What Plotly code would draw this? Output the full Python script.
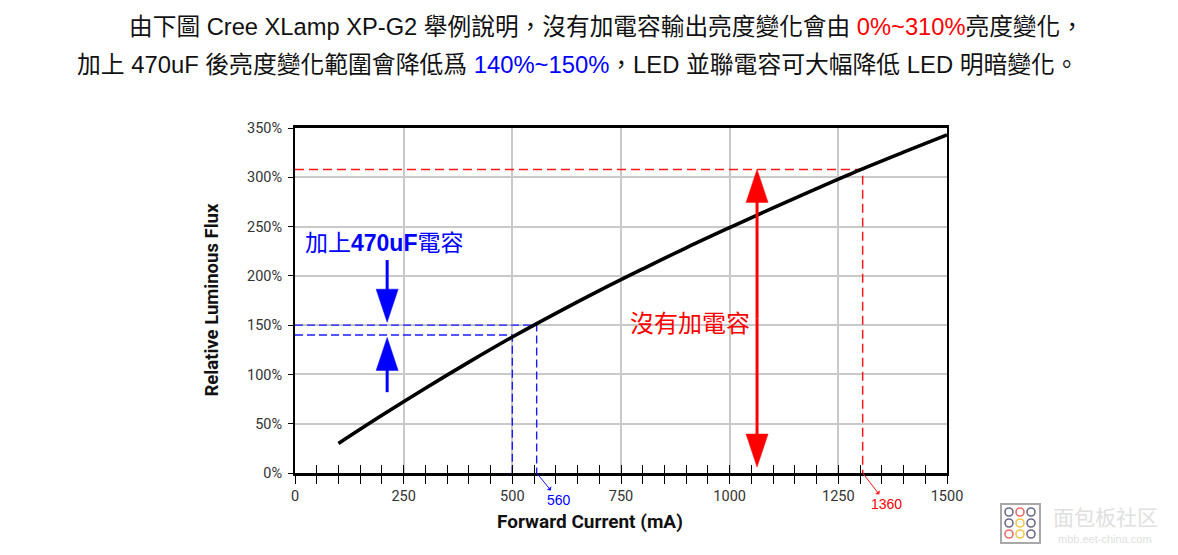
import plotly.graph_objects as go

# ---------------- data ----------------
current_ma = [100, 200, 300, 400, 500, 600, 700, 800, 900, 1000, 1100, 1200, 1300, 1400, 1500]
flux_pct = [30, 58.5, 86, 112.5, 138, 162, 185, 207, 228.5, 249, 269, 288.5, 307.5, 325.5, 343]

x_ticks = [0, 250, 500, 750, 1000, 1250, 1500]
y_ticks = [0, 50, 100, 150, 200, 250, 300, 350]
y_tick_text = ["0%", "50%", "100%", "150%", "200%", "250%", "300%", "350%"]

# capacitor case (blue)
cap_current = [500, 556]
cap_flux = [140, 150]
cap_label = "560"
# no-capacitor case (red)
nocap_current = 1306
nocap_flux = 308
nocap_label = "1360"

# arrows (data units)
blue_arrow_x = 212
blue_down = [216, 153]   # tail, tip
blue_up = [82, 137.5]    # tail, tip
red_arrow_x = 1063
red_tips = [6, 308]      # bottom tip, top tip

# ---------------- geometry / style ----------------
OFF = 8  # page body margin
W, H = 1178 - OFF, 555 - OFF
PL, PR, PT, PB = 295, 947, 128, 473  # plot area edges in reference pixels
ML, MR, MT, MB = PL - OFF, 1178 - PR, PT - OFF, 555 - PB
PW, PH = PR - PL, PB - PT
X_RANGE = [0, 1500]
Y_RANGE = [0, 350]
mA_per_px = (X_RANGE[1] - X_RANGE[0]) / PW
pct_per_px = (Y_RANGE[1] - Y_RANGE[0]) / PH

BLUE = "#1a1aff"
RED = "#ff1a1a"
CJK = "Liberation Sans, Arial, Noto Sans CJK TC, sans-serif"
TICKF = "Roboto, Liberation Sans, sans-serif"

HEAD_LEN_PX = 33
HEAD_HALF_PX = 11


def px_x(px):
    return (px - PL) / PW


def px_y(py):
    return (PB - py) / PH


fig = go.Figure()

# dashed guide lines
fig.add_trace(go.Scatter(x=[0, cap_current[0], cap_current[0]], y=[cap_flux[0], cap_flux[0], 0],
                         mode="lines", line=dict(color=BLUE, width=1.4, dash="8px,4px"),
                         hoverinfo="skip", showlegend=False))
fig.add_trace(go.Scatter(x=[0, cap_current[1], cap_current[1]], y=[cap_flux[1], cap_flux[1], 0],
                         mode="lines", line=dict(color=BLUE, width=1.4, dash="8px,4px"),
                         hoverinfo="skip", showlegend=False))
fig.add_trace(go.Scatter(x=[0, nocap_current, nocap_current], y=[nocap_flux, nocap_flux, 0],
                         mode="lines", line=dict(color=RED, width=1.5, dash="9px,5px"),
                         hoverinfo="skip", showlegend=False))

# main curve
fig.add_trace(go.Scatter(x=current_ma, y=flux_pct, mode="lines",
                         line=dict(color="black", width=3.6, shape="spline", smoothing=1),
                         showlegend=False))
# invisible trace to activate overlay axis for inside ticks
fig.add_trace(go.Scatter(x=current_ma, y=flux_pct, mode="lines", xaxis="x2",
                         line=dict(color="rgba(0,0,0,0)", width=0), hoverinfo="skip",
                         showlegend=False))


def arrow(x, tail, tip, color):
    d = 1 if tip > tail else -1
    hl = HEAD_LEN_PX * pct_per_px
    hw = HEAD_HALF_PX * mA_per_px
    base = tip - d * hl
    fig.add_trace(go.Scatter(x=[x, x], y=[tail, base + d * 1], mode="lines",
                             line=dict(color=color, width=3), hoverinfo="skip",
                             showlegend=False))
    fig.add_trace(go.Scatter(x=[x - hw, x + hw, x, x - hw], y=[base, base, tip, base],
                             mode="lines", fill="toself", fillcolor=color,
                             line=dict(color=color, width=0.5), hoverinfo="skip",
                             showlegend=False))


arrow(blue_arrow_x, blue_down[0], blue_down[1], "#0000ff")
arrow(blue_arrow_x, blue_up[0], blue_up[1], "#0000ff")
mid = (red_tips[0] + red_tips[1]) / 2
arrow(red_arrow_x, mid, red_tips[1], "#ff0000")
arrow(red_arrow_x, mid, red_tips[0], "#ff0000")

annotations = [
    # header text
    dict(text="由下圖 Cree XLamp XP-G2 舉例說明，沒有加電容輸出亮度變化會由 "
              "<span style='color:#ff0000'>0%~310%</span>亮度變化，",
         xref="paper", yref="paper", x=px_x(1086), y=px_y(27), xanchor="right", yanchor="middle",
         showarrow=False, font=dict(family=CJK, size=23.7, color="#111")),
    dict(text="加上 470uF 後亮度變化範圍會降低爲 <span style='color:#0000ff'>140%~150%</span>"
              "，LED 並聯電容可大幅降低 LED 明暗變化。",
         xref="paper", yref="paper", x=px_x(1081), y=px_y(65), xanchor="right", yanchor="middle",
         showarrow=False, font=dict(family=CJK, size=23.8, color="#111")),
    # axis titles
    dict(text="<b>Forward Current (mA)</b>", xref="paper", yref="paper",
         x=px_x(590), y=px_y(521), xanchor="center", yanchor="middle", showarrow=False,
         font=dict(family=TICKF, size=19, color="#111")),
    dict(text="<b>Relative Luminous Flux</b>", xref="paper", yref="paper", textangle=-90,
         x=px_x(211), y=0.5, xanchor="center", yanchor="middle", showarrow=False,
         font=dict(family=TICKF, size=18.5, color="#111")),
    # in-chart labels
    dict(text="加上<b>470uF</b>電容", x=18, y=233, xanchor="left", yanchor="middle",
         showarrow=False, font=dict(family=CJK, size=23, color="#0000ff")),
    dict(text="沒有加電容", x=766, y=152, xanchor="left", yanchor="middle",
         showarrow=False, font=dict(family=CJK, size=24, color="#ff0000")),
    dict(text=cap_label, x=cap_current[1], y=0, ax=22, ay=27, xanchor="center", yanchor="middle",
         showarrow=True, arrowside="start", arrowhead=2, arrowsize=1.2, arrowwidth=1,
         arrowcolor=BLUE, font=dict(family=CJK, size=14, color="#0000ff")),
    dict(text=nocap_label, x=nocap_current, y=0, ax=24, ay=31, xanchor="center", yanchor="middle",
         showarrow=True, arrowside="start", arrowhead=2, arrowsize=1.2, arrowwidth=1,
         arrowcolor=RED, font=dict(family=CJK, size=14, color="#ff0000")),
    # watermark
    dict(text="面包板社区", xref="paper", yref="paper", x=px_x(1105), y=px_y(516),
         xanchor="center", yanchor="middle", showarrow=False,
         font=dict(family="Noto Sans CJK SC", size=21, color="#e0e0e0")),
    dict(text="mbb.eet-china.com", xref="paper", yref="paper", x=px_x(1105), y=px_y(539),
         xanchor="center", yanchor="middle", showarrow=False,
         font=dict(family="Liberation Sans", size=11, color="#e0e0e0")),
]

shapes = [
    dict(type="rect", xref="paper", yref="paper", x0=px_x(1001), x1=px_x(1040),
         y0=px_y(543), y1=px_y(504), line=dict(color="#a8a8a8", width=2)),
]
logo_colors = [["#6a6a8a", "#ec6a6a", "#6a6a8a"],
               ["#6a6a8a", "#f2c84a", "#6a6a8a"],
               ["#ec6a6a", "#f2c84a", "#6a6a8a"]]
for r in range(3):
    for c in range(3):
        cx, cy = 1009 + c * 11, 512 + r * 11
        shapes.append(dict(type="circle", xref="paper", yref="paper",
                           x0=px_x(cx - 4), x1=px_x(cx + 4), y0=px_y(cy + 4), y1=px_y(cy - 4),
                           line=dict(color=logo_colors[r][c], width=1.6)))

fig.update_layout(
    width=W, height=H,
    margin=dict(l=ML, r=MR, t=MT, b=MB, pad=0),
    paper_bgcolor="white", plot_bgcolor="white",
    showlegend=False,
    xaxis=dict(range=X_RANGE, tickvals=x_ticks, ticks="outside", ticklen=8, tickwidth=1.3,
               tickcolor="black", showline=True, linecolor="black", linewidth=2.5, mirror=True,
               showgrid=True, gridcolor="#c9c9c9", gridwidth=1.5, zeroline=False,
               tickfont=dict(family=TICKF, size=14.5, color="#333"),
               minor=dict(dtick=50, tick0=0, ticks="outside", ticklen=8, tickwidth=1.3,
                          tickcolor="black", showgrid=False)),
    xaxis2=dict(range=X_RANGE, overlaying="x", anchor="y", side="bottom", ticks="inside",
                dtick=50, tick0=0, ticklen=8, tickwidth=1.3, tickcolor="black",
                showticklabels=False, showgrid=False, showline=False, zeroline=False),
    yaxis=dict(range=Y_RANGE, tickvals=y_ticks, ticktext=y_tick_text, ticks="outside", ticklen=5,
               tickwidth=1.3, tickcolor="black", showline=True, linecolor="black", linewidth=2,
               mirror=True, showgrid=True, gridcolor="#c9c9c9", gridwidth=1.5, zeroline=False,
               ticklabelstandoff=3,
               tickfont=dict(family=TICKF, size=14.5, color="#333")),
    annotations=annotations,
    shapes=shapes,
)

fig.write_html("out.html")
